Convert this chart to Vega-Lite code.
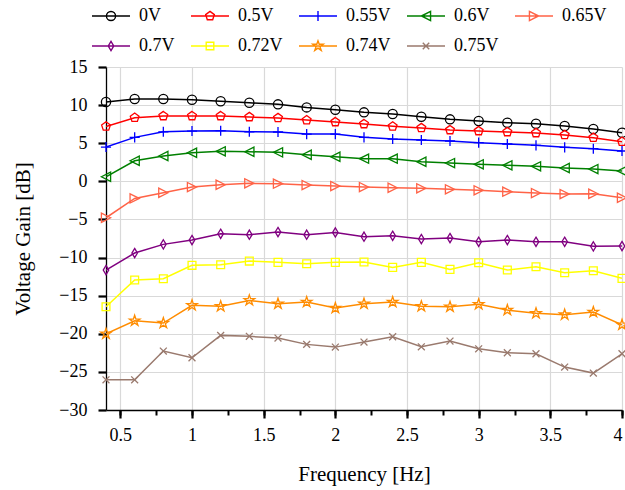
{
  "$schema": "https://vega.github.io/schema/vega-lite/v6.json",
  "autosize": {"type": "none"},
  "width": 516,
  "height": 343,
  "padding": {"left": 106, "top": 67, "right": 3, "bottom": 80},
  "background": "white",
  "config": {
    "font": "Liberation Serif",
    "view": {"stroke": null},
    "style": {"guide-label": {"font": "Liberation Serif", "fontSize": 18, "fill": "black"}, "guide-title": {"font": "Liberation Serif", "fontSize": 21, "fill": "black"}},
    "axis": {"labelFont": "Liberation Serif", "titleFont": "Liberation Serif", "labelColor": "black", "titleColor": "black", "labelFontSize": 18, "titleFontSize": 21, "titleFontWeight": "normal", "domainColor": "black", "tickColor": "black", "gridColor": "#d9d9d9", "gridWidth": 1.2, "labelOverlap": false},
    "legend": {"labelFont": "Liberation Serif", "labelFontSize": 18, "labelColor": "black"}
  },
  "datasets": {
    "d": [
      {"v":"0V","f":0.4,"g":10.4},{"v":"0V","f":0.6,"g":10.8},{"v":"0V","f":0.8,"g":10.8},{"v":"0V","f":1.0,"g":10.7},{"v":"0V","f":1.2,"g":10.5},{"v":"0V","f":1.4,"g":10.3},{"v":"0V","f":1.6,"g":10.1},{"v":"0V","f":1.8,"g":9.7},{"v":"0V","f":2.0,"g":9.4},{"v":"0V","f":2.2,"g":9.05},{"v":"0V","f":2.4,"g":8.83},{"v":"0V","f":2.6,"g":8.48},{"v":"0V","f":2.8,"g":8.13},{"v":"0V","f":3.0,"g":7.91},{"v":"0V","f":3.2,"g":7.69},{"v":"0V","f":3.4,"g":7.56},{"v":"0V","f":3.6,"g":7.26},{"v":"0V","f":3.8,"g":6.86},{"v":"0V","f":4.0,"g":6.38},
      {"v":"0.5V","f":0.4,"g":7.2},{"v":"0.5V","f":0.6,"g":8.35},{"v":"0.5V","f":0.8,"g":8.57},{"v":"0.5V","f":1.0,"g":8.57},{"v":"0.5V","f":1.2,"g":8.57},{"v":"0.5V","f":1.4,"g":8.44},{"v":"0.5V","f":1.6,"g":8.31},{"v":"0.5V","f":1.8,"g":8.04},{"v":"0.5V","f":2.0,"g":7.78},{"v":"0.5V","f":2.2,"g":7.52},{"v":"0.5V","f":2.4,"g":7.22},{"v":"0.5V","f":2.6,"g":7.0},{"v":"0.5V","f":2.8,"g":6.73},{"v":"0.5V","f":3.0,"g":6.6},{"v":"0.5V","f":3.2,"g":6.47},{"v":"0.5V","f":3.4,"g":6.34},{"v":"0.5V","f":3.6,"g":6.08},{"v":"0.5V","f":3.8,"g":5.72},{"v":"0.5V","f":4.0,"g":5.2},
      {"v":"0.55V","f":0.4,"g":4.5},{"v":"0.55V","f":0.6,"g":5.77},{"v":"0.55V","f":0.8,"g":6.5},{"v":"0.55V","f":1.0,"g":6.6},{"v":"0.55V","f":1.2,"g":6.64},{"v":"0.55V","f":1.4,"g":6.5},{"v":"0.55V","f":1.6,"g":6.47},{"v":"0.55V","f":1.8,"g":6.2},{"v":"0.55V","f":2.0,"g":6.2},{"v":"0.55V","f":2.2,"g":5.77},{"v":"0.55V","f":2.4,"g":5.55},{"v":"0.55V","f":2.6,"g":5.42},{"v":"0.55V","f":2.8,"g":5.29},{"v":"0.55V","f":3.0,"g":5.07},{"v":"0.55V","f":3.2,"g":4.9},{"v":"0.55V","f":3.4,"g":4.72},{"v":"0.55V","f":3.6,"g":4.46},{"v":"0.55V","f":3.8,"g":4.28},{"v":"0.55V","f":4.0,"g":3.98},
      {"v":"0.6V","f":0.4,"g":0.6},{"v":"0.6V","f":0.6,"g":2.7},{"v":"0.6V","f":0.8,"g":3.32},{"v":"0.6V","f":1.0,"g":3.75},{"v":"0.6V","f":1.2,"g":3.94},{"v":"0.6V","f":1.4,"g":3.88},{"v":"0.6V","f":1.6,"g":3.8},{"v":"0.6V","f":1.8,"g":3.49},{"v":"0.6V","f":2.0,"g":3.23},{"v":"0.6V","f":2.2,"g":2.97},{"v":"0.6V","f":2.4,"g":2.97},{"v":"0.6V","f":2.6,"g":2.57},{"v":"0.6V","f":2.8,"g":2.4},{"v":"0.6V","f":3.0,"g":2.23},{"v":"0.6V","f":3.2,"g":2.1},{"v":"0.6V","f":3.4,"g":1.97},{"v":"0.6V","f":3.6,"g":1.75},{"v":"0.6V","f":3.8,"g":1.61},{"v":"0.6V","f":4.0,"g":1.35},
      {"v":"0.65V","f":0.4,"g":-4.78},{"v":"0.65V","f":0.6,"g":-2.24},{"v":"0.65V","f":0.8,"g":-1.5},{"v":"0.65V","f":1.0,"g":-0.75},{"v":"0.65V","f":1.2,"g":-0.45},{"v":"0.65V","f":1.4,"g":-0.26},{"v":"0.65V","f":1.6,"g":-0.31},{"v":"0.65V","f":1.8,"g":-0.49},{"v":"0.65V","f":2.0,"g":-0.62},{"v":"0.65V","f":2.2,"g":-0.75},{"v":"0.65V","f":2.4,"g":-0.84},{"v":"0.65V","f":2.6,"g":-0.92},{"v":"0.65V","f":2.8,"g":-1.05},{"v":"0.65V","f":3.0,"g":-1.18},{"v":"0.65V","f":3.2,"g":-1.36},{"v":"0.65V","f":3.4,"g":-1.54},{"v":"0.65V","f":3.6,"g":-1.67},{"v":"0.65V","f":3.8,"g":-1.63},{"v":"0.65V","f":4.0,"g":-2.15},
      {"v":"0.7V","f":0.4,"g":-11.64},{"v":"0.7V","f":0.6,"g":-9.41},{"v":"0.7V","f":0.8,"g":-8.27},{"v":"0.7V","f":1.0,"g":-7.7},{"v":"0.7V","f":1.2,"g":-6.88},{"v":"0.7V","f":1.4,"g":-7.0},{"v":"0.7V","f":1.6,"g":-6.65},{"v":"0.7V","f":1.8,"g":-7.0},{"v":"0.7V","f":2.0,"g":-6.7},{"v":"0.7V","f":2.2,"g":-7.27},{"v":"0.7V","f":2.4,"g":-7.14},{"v":"0.7V","f":2.6,"g":-7.57},{"v":"0.7V","f":2.8,"g":-7.44},{"v":"0.7V","f":3.0,"g":-7.93},{"v":"0.7V","f":3.2,"g":-7.7},{"v":"0.7V","f":3.4,"g":-7.93},{"v":"0.7V","f":3.6,"g":-7.93},{"v":"0.7V","f":3.8,"g":-8.53},{"v":"0.7V","f":4.0,"g":-8.49},
      {"v":"0.72V","f":0.4,"g":-16.46},{"v":"0.72V","f":0.6,"g":-12.95},{"v":"0.72V","f":0.8,"g":-12.78},{"v":"0.72V","f":1.0,"g":-11.02},{"v":"0.72V","f":1.2,"g":-10.94},{"v":"0.72V","f":1.4,"g":-10.46},{"v":"0.72V","f":1.6,"g":-10.63},{"v":"0.72V","f":1.8,"g":-10.81},{"v":"0.72V","f":2.0,"g":-10.63},{"v":"0.72V","f":2.2,"g":-10.59},{"v":"0.72V","f":2.4,"g":-11.29},{"v":"0.72V","f":2.6,"g":-10.63},{"v":"0.72V","f":2.8,"g":-11.55},{"v":"0.72V","f":3.0,"g":-10.68},{"v":"0.72V","f":3.2,"g":-11.64},{"v":"0.72V","f":3.4,"g":-11.2},{"v":"0.72V","f":3.6,"g":-11.99},{"v":"0.72V","f":3.8,"g":-11.73},{"v":"0.72V","f":4.0,"g":-12.73},
      {"v":"0.74V","f":0.4,"g":-20.0},{"v":"0.74V","f":0.6,"g":-18.29},{"v":"0.74V","f":0.8,"g":-18.6},{"v":"0.74V","f":1.0,"g":-16.27},{"v":"0.74V","f":1.2,"g":-16.4},{"v":"0.74V","f":1.4,"g":-15.62},{"v":"0.74V","f":1.6,"g":-16.06},{"v":"0.74V","f":1.8,"g":-15.84},{"v":"0.74V","f":2.0,"g":-16.63},{"v":"0.74V","f":2.2,"g":-16.06},{"v":"0.74V","f":2.4,"g":-15.84},{"v":"0.74V","f":2.6,"g":-16.4},{"v":"0.74V","f":2.8,"g":-16.46},{"v":"0.74V","f":3.0,"g":-16.14},{"v":"0.74V","f":3.2,"g":-16.89},{"v":"0.74V","f":3.4,"g":-17.32},{"v":"0.74V","f":3.6,"g":-17.5},{"v":"0.74V","f":3.8,"g":-17.15},{"v":"0.74V","f":4.0,"g":-18.82},
      {"v":"0.75V","f":0.4,"g":-26.04},{"v":"0.75V","f":0.6,"g":-26.04},{"v":"0.75V","f":0.8,"g":-22.27},{"v":"0.75V","f":1.0,"g":-23.15},{"v":"0.75V","f":1.2,"g":-20.21},{"v":"0.75V","f":1.4,"g":-20.34},{"v":"0.75V","f":1.6,"g":-20.56},{"v":"0.75V","f":1.8,"g":-21.39},{"v":"0.75V","f":2.0,"g":-21.75},{"v":"0.75V","f":2.2,"g":-21.09},{"v":"0.75V","f":2.4,"g":-20.39},{"v":"0.75V","f":2.6,"g":-21.71},{"v":"0.75V","f":2.8,"g":-20.96},{"v":"0.75V","f":3.0,"g":-21.97},{"v":"0.75V","f":3.2,"g":-22.49},{"v":"0.75V","f":3.4,"g":-22.62},{"v":"0.75V","f":3.6,"g":-24.37},{"v":"0.75V","f":3.8,"g":-25.16},{"v":"0.75V","f":4.0,"g":-22.62}
    ]
  },
  "data": {"name": "d"},
  "resolve": {"scale": {"color": "independent", "shape": "independent"}, "axis": {"x": "independent"}},
  "layer": [
    {
      "mark": {"type": "line", "strokeWidth": 1.5, "clip": true},
      "encoding": {
        "x": {"field": "f", "type": "quantitative", "scale": {"domain": [0.4, 4], "nice": false, "zero": false},
          "axis": {"orient": "bottom", "values": [0.5, 0.75, 1, 1.25, 1.5, 1.75, 2, 2.25, 2.5, 2.75, 3, 3.25, 3.5, 3.75, 4], "labels": false, "grid": false, "domain": false, "tickSize": 5, "tickWidth": 2, "title": null}},
        "y": {"field": "g", "type": "quantitative", "scale": {"domain": [-30, 15], "nice": false, "zero": false},
          "axis": {"values": [-30, -25, -20, -15, -10, -5, 0, 5, 10, 15], "grid": true, "tickSize": 8, "tickWidth": 2.2, "labelPadding": 11, "labelFont": "Liberation Serif", "labelFontSize": 18, "labelOverlap": false, "domainWidth": 1.3, "title": "Voltage Gain [dB]", "titleFontSize": 21, "titlePadding": 25}},
        "color": {"field": "v", "type": "nominal", "legend": null,
          "scale": {"domain": ["0V","0.5V","0.55V","0.6V","0.65V","0.7V","0.72V","0.74V","0.75V"], "range": ["#000000","#ff0000","#0000ff","#008000","#ff6347","#800080","#ffff00","#ff8c00","#9a7a6e"]}},
        "detail": {"field": "v"}
      }
    },
    {
      "mark": {"type": "point", "filled": false, "size": 85, "strokeWidth": 1.3, "opacity": 1, "clip": false},
      "encoding": {
        "x": {"field": "f", "type": "quantitative", "scale": {"domain": [0.4, 4], "nice": false, "zero": false},
          "axis": {"orient": "bottom", "values": [0.5, 1, 1.5, 2, 2.5, 3, 3.5, 4], "format": "~g", "grid": true, "tickSize": 8, "tickWidth": 2.2, "domainWidth": 1.3, "labelPadding": 8, "labelFont": "Liberation Serif", "labelFontSize": 18, "labelOverlap": false, "title": "Frequency [Hz]", "titleFontSize": 21, "titlePadding": 19}},
        "y": {"field": "g", "type": "quantitative", "scale": {"domain": [-30, 15], "nice": false, "zero": false},
          "axis": {"values": [-30, -25, -20, -15, -10, -5, 0, 5, 10, 15], "grid": true, "tickSize": 8, "tickWidth": 2.2, "labelPadding": 11, "labelFont": "Liberation Serif", "labelFontSize": 18, "labelOverlap": false, "domainWidth": 1.3, "title": "Voltage Gain [dB]", "titleFontSize": 21, "titlePadding": 25}},
        "color": {"field": "v", "type": "nominal", "legend": null,
          "scale": {"domain": ["0V","0.5V","0.55V","0.6V","0.65V","0.7V","0.72V","0.74V","0.75V"], "range": ["#000000","#ff0000","#0000ff","#008000","#ff6347","#800080","#ffff00","#ff8c00","#9a7a6e"]}},
        "shape": {"field": "v", "type": "nominal", "legend": null,
          "scale": {"domain": ["0V","0.5V","0.55V","0.6V","0.65V","0.7V","0.72V","0.74V","0.75V"], "range": [
            "M1,0A1,1,0,1,1,-1,0A1,1,0,1,1,1,0Z",
            "M0,-1L0.951,-0.309L0.588,0.809L-0.588,0.809L-0.951,-0.309Z",
            "M-1.1,0H1.1M0,-1.1V1.1",
            "M-1,0L1,-1L1,1Z",
            "M1,0L-1,-1L-1,1Z",
            "M0,-1L0.6,0L0,1L-0.6,0Z",
            "M-0.85,-0.85H0.85V0.85H-0.85Z",
            "M0,-1.2L0.27,-0.37L1.14,-0.37L0.43,0.14L0.71,0.97L0,0.46L-0.71,0.97L-0.43,0.14L-1.14,-0.37L-0.27,-0.37Z",
            "M-0.75,-0.75L0.75,0.75M-0.75,0.75L0.75,-0.75"
          ]}}
      }
    },
    {
      "mark": {"type": "point", "filled": false, "opacity": 0, "size": 1},
      "encoding": {
        "x": {"field": "f", "type": "quantitative", "axis": null},
        "y": {"field": "g", "type": "quantitative", "scale": {"domain": [-30, 15], "nice": false, "zero": false},
          "axis": {"values": [-30, -25, -20, -15, -10, -5, 0, 5, 10, 15], "grid": true, "tickSize": 8, "tickWidth": 2.2, "labelPadding": 11, "labelFont": "Liberation Serif", "labelFontSize": 18, "labelOverlap": false, "domainWidth": 1.3, "title": "Voltage Gain [dB]", "titleFontSize": 21, "titlePadding": 25}},
        "color": {"field": "v", "type": "nominal",
          "scale": {"domain": ["0V","0.5V","0.55V","0.6V","0.65V","0.7V","0.72V","0.74V","0.75V"], "range": ["#000000","#ff0000","#0000ff","#008000","#ff6347","#800080","#ffff00","#ff8c00","#9a7a6e"]},
          "legend": {"orient": "none", "legendX": -15, "legendY": -71, "direction": "horizontal", "columns": 5, "title": null, "labelFont": "Liberation Serif", "labelFontSize": 18, "labelColor": "black", "symbolSize": 1444, "symbolStrokeWidth": 1.4, "symbolOpacity": 1, "symbolFillColor": "transparent", "labelOffset": 8, "columnPadding": 13, "rowPadding": 1}},
        "shape": {"field": "v", "type": "nominal",
          "scale": {"domain": ["0V","0.5V","0.55V","0.6V","0.65V","0.7V","0.72V","0.74V","0.75V"], "range": [
            "M-1,0H1M0.24,0A0.24,0.24,0,1,1,-0.24,0A0.24,0.24,0,1,1,0.24,0",
            "M-1,0H1M0,-0.24L0.228,-0.074L0.141,0.194L-0.141,0.194L-0.228,-0.074Z",
            "M-1,0H1M0,-0.26V0.26",
            "M-1,0H1M-0.24,0L0.24,-0.24L0.24,0.24Z",
            "M-1,0H1M0.24,0L-0.24,-0.24L-0.24,0.24Z",
            "M-1,0H1M0,-0.24L0.144,0L0,0.24L-0.144,0Z",
            "M-1,0H1M-0.2,-0.2H0.2V0.2H-0.2Z",
            "M-1,0H1M0,-0.27L0.065,-0.089L0.274,-0.089L0.103,0.034L0.17,0.233L0,0.11L-0.17,0.233L-0.103,0.034L-0.274,-0.089L-0.065,-0.089Z",
            "M-1,0H1M-0.17,-0.17L0.17,0.17M-0.17,0.17L0.17,-0.17"
          ]},
          "legend": {"orient": "none", "legendX": -15, "legendY": -71, "direction": "horizontal", "columns": 5, "title": null, "labelFont": "Liberation Serif", "labelFontSize": 18, "labelColor": "black", "symbolSize": 1444, "symbolStrokeWidth": 1.4, "symbolOpacity": 1, "symbolFillColor": "transparent", "labelOffset": 8, "columnPadding": 13, "rowPadding": 1}}
      }
    }
  ]
}
